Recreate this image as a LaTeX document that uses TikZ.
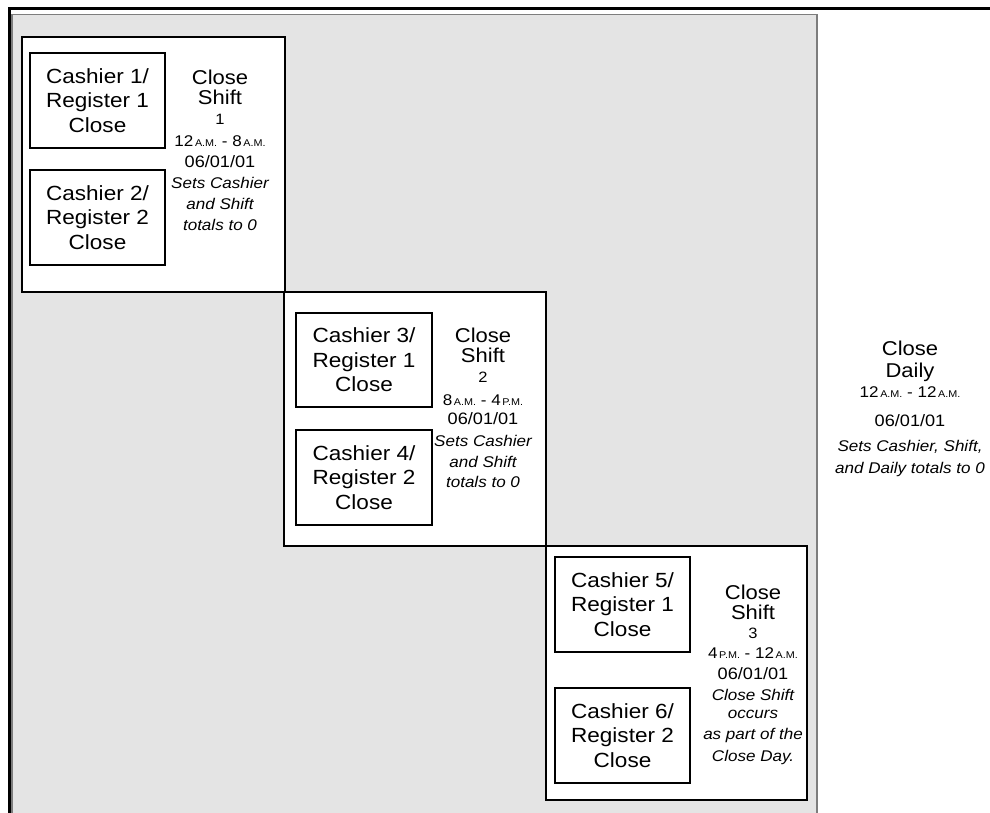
\documentclass[tikz,border=0pt]{standalone}
\usepackage{fontspec}
\setmainfont{Liberation Sans}[FakeStretch=1.1]
\newcommand\smam[1]{{\fontsize{9.8}{10}\selectfont #1}}
\begin{document}
\begin{tikzpicture}[x=1pt,y=-1pt,
  frame/.style={draw=black, line width=1.1pt, fill=white, inner sep=0},
  cbox/.style={draw=black, line width=1.1pt, fill=white, inner sep=0, align=center,
    minimum width=135pt, minimum height=95pt, font=\fontsize{20.5}{24.5}\selectfont},
  big/.style={font=\fontsize{20}{20}\selectfont, anchor=base, inner sep=0},
  num/.style={font=\fontsize{15}{15}\selectfont, anchor=base, inner sep=0},
  tim/.style={font=\fontsize{15.5}{15.5}\selectfont, anchor=base, inner sep=0},
  dat/.style={font=\fontsize{16.5}{16.5}\selectfont, anchor=base, inner sep=0},
  itl/.style={font=\fontsize{15.5}{15.5}\selectfont\itshape, anchor=base, inner sep=0}]
\useasboundingbox (0,0) rectangle (990,813);
% page frame and grey area
\fill[white] (0,0) rectangle (990,813);
\path[fill={rgb,255:red,228;green,228;blue,228}, draw={rgb,255:red,125;green,125;blue,125}, line width=1.8pt]
  (12,14.5) -- (817,14.5) -- (817,820) -- (12,820) -- cycle;
\draw[black, line width=3pt] (9,830) -- (9,8.5) -- (995,8.5);
% shift frames
\node[frame, minimum width=263pt, minimum height=255pt] (s1) at (153.5,164.5) {};
\node[frame, minimum width=262pt, minimum height=254pt] (s2) at (415,419) {};
\node[frame, minimum width=261pt, minimum height=254pt] (s3) at (676.5,673) {};
% cashier boxes
\node[cbox] (c1) at (97.5,100.5) {Cashier 1/\\Register 1\\Close};
\node[cbox] (c2) at (97.5,217.5) {Cashier 2/\\Register 2\\Close};
\node[cbox, minimum width=136pt, minimum height=94pt] (c3) at (364,360) {Cashier 3/\\Register 1\\Close};
\node[cbox, minimum width=136pt] (c4) at (364,477.5) {Cashier 4/\\Register 2\\Close};
\node[cbox] (c5) at (622.5,604.5) {Cashier 5/\\Register 1\\Close};
\node[cbox] (c6) at (622.5,735.5) {Cashier 6/\\Register 2\\Close};
% shift 1 label
\node[big] (l1a) at (220,85) {Close};
\node[big] (l1b) at (220,105) {Shift};
\node[num] (l1c) at (220,125) {1};
\node[tim] (l1d) at (220,147) {12\smam{\,A.M.} - 8\smam{\,A.M.}};
\node[dat] (l1e) at (220,168) {06/01/01};
\node[itl] (l1f) at (220,189) {Sets Cashier};
\node[itl] (l1g) at (220,210) {and Shift};
\node[itl] (l1h) at (220,230) {totals to 0};
% shift 2 label
\node[big] (l2a) at (483,342) {Close};
\node[big] (l2b) at (483,362) {Shift};
\node[num] (l2c) at (483,382) {2};
\node[tim] (l2d) at (483,405) {8\smam{\,A.M.} - 4\smam{\,P.M.}};
\node[dat] (l2e) at (483,424) {06/01/01};
\node[itl] (l2f) at (483,446) {Sets Cashier};
\node[itl] (l2g) at (483,467) {and Shift};
\node[itl] (l2h) at (483,487) {totals to 0};
% shift 3 label
\node[big] (l3a) at (753,599) {Close};
\node[big] (l3b) at (753,619) {Shift};
\node[num] (l3c) at (753,638) {3};
\node[tim] (l3d) at (753,658) {4\smam{\,P.M.} - 12\smam{\,A.M.}};
\node[dat] (l3e) at (753,679) {06/01/01};
\node[itl] (l3f) at (753,700) {Close Shift};
\node[itl] (l3g) at (753,718) {occurs};
\node[itl] (l3h) at (753,739) {as part of the};
\node[itl] (l3i) at (753,761) {Close Day.};
% close daily label
\node[big] (d1) at (910,355) {Close};
\node[big] (d2) at (910,377) {Daily};
\node[tim] (d3) at (910,397) {12\smam{\,A.M.} - 12\smam{\,A.M.}};
\node[dat] (d4) at (910,426) {06/01/01};
\node[itl] (d5) at (910,451) {Sets Cashier, Shift,};
\node[itl] (d6) at (910,473) {and Daily totals to 0};
\end{tikzpicture}
\end{document}
